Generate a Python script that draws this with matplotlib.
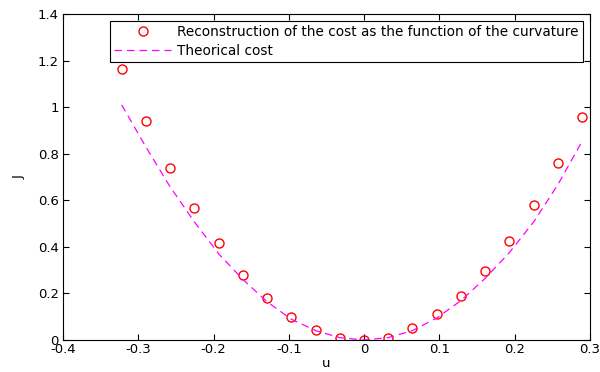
import numpy as np
import matplotlib.pyplot as plt

plt.rcParams['font.family'] = ['DejaVu Sans']

# curvature samples
u = [-0.322, -0.290, -0.258, -0.226, -0.193, -0.161, -0.129, -0.097, -0.064, -0.032,
     0.0, 0.032, 0.064, 0.097, 0.129, 0.161, 0.193, 0.226, 0.258, 0.290]
# reconstructed cost (circles)
J_rec = [1.165, 0.94, 0.74, 0.565, 0.415, 0.28, 0.18, 0.10, 0.045, 0.01,
         0.0, 0.01, 0.05, 0.11, 0.19, 0.295, 0.425, 0.58, 0.76, 0.96]
# theoretical cost (dashed)
J_th = [1.01, 0.83, 0.66, 0.51, 0.37, 0.26, 0.165, 0.09, 0.04, 0.01,
        0.0, 0.01, 0.04, 0.095, 0.17, 0.265, 0.375, 0.51, 0.67, 0.855]

fig = plt.figure(figsize=(6, 3.72), dpi=100)
ax = fig.add_axes([0.105, 0.086, 0.878, 0.876])

ax.plot(u, J_rec, 'o', mfc='none', mec='red', ms=6.5, mew=1.0,
        label='Reconstruction of the cost as the function of the curvature')
ax.plot(u, J_th, '--', color='magenta', lw=0.9, dashes=(6, 4),
        label='Theorical cost')

ax.set_xlim(-0.4, 0.3)
ax.set_ylim(0, 1.4)
ax.set_xticks(np.arange(-0.4, 0.31, 0.1))
ax.set_xticklabels(['-0.4', '-0.3', '-0.2', '-0.1', '0', '0.1', '0.2', '0.3'])
ax.set_yticks(np.arange(0, 1.41, 0.2))
ax.set_yticklabels(['0', '0.2', '0.4', '0.6', '0.8', '1', '1.2', '1.4'])
ax.tick_params(direction='in', top=True, right=True, labelsize=9.5, length=4, pad=2)
ax.tick_params(axis='y', pad=3)
for s in ax.spines.values():
    s.set_linewidth(0.8)

ax.set_xlabel('u', fontsize=9.5, labelpad=1)
ax.set_ylabel('J', fontsize=9.5, labelpad=9)

leg = ax.legend(loc='upper right', fontsize=9.8, fancybox=False, framealpha=1,
                edgecolor='black', borderaxespad=0.5, handlelength=4.2,
                borderpad=0.3, labelspacing=0.35, handletextpad=0.45)
leg.get_frame().set_linewidth(0.8)

fig.savefig('out.png', dpi=100)
